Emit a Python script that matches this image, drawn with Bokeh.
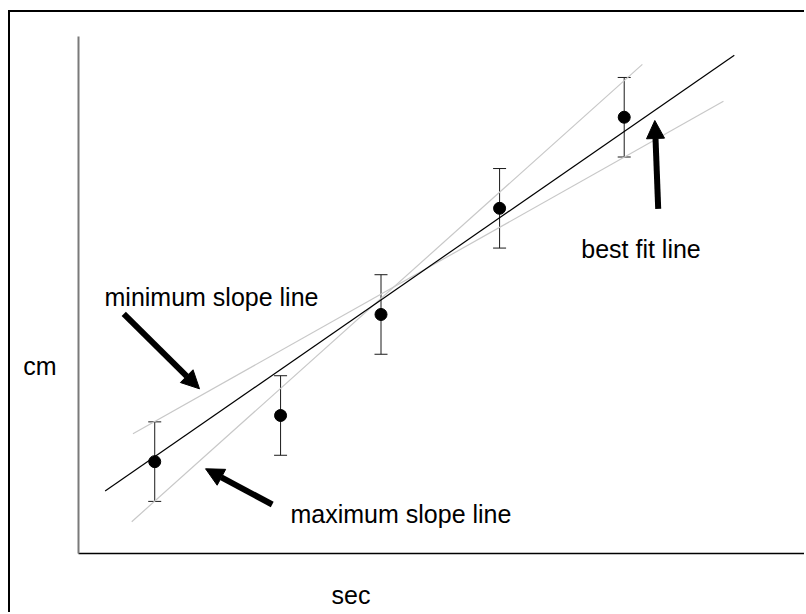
from bokeh.plotting import figure
from bokeh.models import (Range1d, ColumnDataSource, Whisker, TeeHead, Arrow, NormalHead,
                          Label, LinearAxis, FixedTicker)
from bokeh.embed import file_html
from bokeh.resources import INLINE

# data
sec = [0.63, 1.67, 2.50, 3.48, 4.51]
cm = [2.31, 3.47, 6.01, 8.68, 10.97]
err = [1.0, 1.0, 1.0, 1.0, 1.0]

best_x = [0.22, 5.42]
best_y = [1.57, 12.53]
min_x = [0.45, 5.33]
min_y = [3.01, 11.37]
max_x = [0.44, 4.66]
max_y = [0.80, 12.30]

labels = ["minimum slope line", "maximum slope line", "best fit line"]
label_x = [0.215, 1.752, 4.155]
label_y = [6.445, 0.998, 7.66]
arrow_start_x = [0.374, 1.601, 4.791]
arrow_start_y = [6.027, 1.232, 8.667]
arrow_end_x = [1.00, 1.050, 4.763]
arrow_end_y = [4.141, 2.130, 10.888]

x_title = "sec"
y_title = "cm"
x_title_pos = (2.091, -1.056)
y_title_pos = (-0.457, 4.727)

FONT = "Liberation Sans"
FS = "25px"

p = figure(width=796, height=602, output_backend="svg", toolbar_location=None,
           x_range=Range1d(-0.4959, 6.0165), y_range=Range1d(-1.3327, 13.6035),
           x_axis_location=None, y_axis_location=None,
           min_border_left=8, min_border_top=0, min_border_bottom=8, min_border_right=0)
p.styles = {"margin-left": "8px", "margin-top": "10px",
            "border-left": "2px solid black", "border-top": "2px solid black"}
p.xgrid.visible = False
p.ygrid.visible = False
p.outline_line_color = None
p.background_fill_color = "white"
p.border_fill_color = "white"

xax = LinearAxis(fixed_location=0, bounds=(0, 6), ticker=FixedTicker(ticks=[]),
                 axis_line_color="black", axis_line_width=1.5,
                 major_tick_line_color=None, minor_tick_line_color=None,
                 major_tick_out=0, minor_tick_out=0, major_label_standoff=0)
yax = LinearAxis(fixed_location=0, bounds=(0, 13), ticker=FixedTicker(ticks=[]),
                 axis_line_color="#7a7a7a", axis_line_width=2,
                 major_tick_line_color=None, minor_tick_line_color=None,
                 major_tick_out=0, minor_tick_out=0, major_label_standoff=0)
p.add_layout(xax, "below")
p.add_layout(yax, "left")

# fit lines
p.line(min_x, min_y, line_color="#c8c8c8", line_width=1.2)
p.line(max_x, max_y, line_color="#c8c8c8", line_width=1.2)
p.line(best_x, best_y, line_color="black", line_width=1.2)

# error bars
src = ColumnDataSource(dict(x=sec, y=cm,
                            upper=[c + e for c, e in zip(cm, err)],
                            lower=[c - e for c, e in zip(cm, err)]))
p.add_layout(Whisker(base="x", upper="upper", lower="lower", source=src,
                     line_color="#1a1a1a", line_width=1,
                     upper_head=TeeHead(size=13, line_color="#1a1a1a", line_width=1),
                     lower_head=TeeHead(size=13, line_color="#1a1a1a", line_width=1)))
p.scatter("x", "y", source=src, size=12, color="black")

# arrows and labels
for i in range(3):
    p.add_layout(Arrow(x_start=arrow_start_x[i], y_start=arrow_start_y[i],
                       x_end=arrow_end_x[i], y_end=arrow_end_y[i],
                       line_width=6, line_color="black",
                       end=NormalHead(size=18, fill_color="black", line_color="black")))
    p.add_layout(Label(x=label_x[i], y=label_y[i], text=labels[i],
                       text_font=FONT, text_font_size=FS, text_color="black",
                       text_baseline="alphabetic", text_align="left"))

p.add_layout(Label(x=y_title_pos[0], y=y_title_pos[1], text=y_title, text_font=FONT,
                   text_font_size=FS, text_color="black",
                   text_baseline="alphabetic", text_align="left"))
p.add_layout(Label(x=x_title_pos[0], y=x_title_pos[1], text=x_title, text_font=FONT,
                   text_font_size=FS, text_color="black",
                   text_baseline="alphabetic", text_align="left"))

open("out.html", "w").write(file_html(p, INLINE))
